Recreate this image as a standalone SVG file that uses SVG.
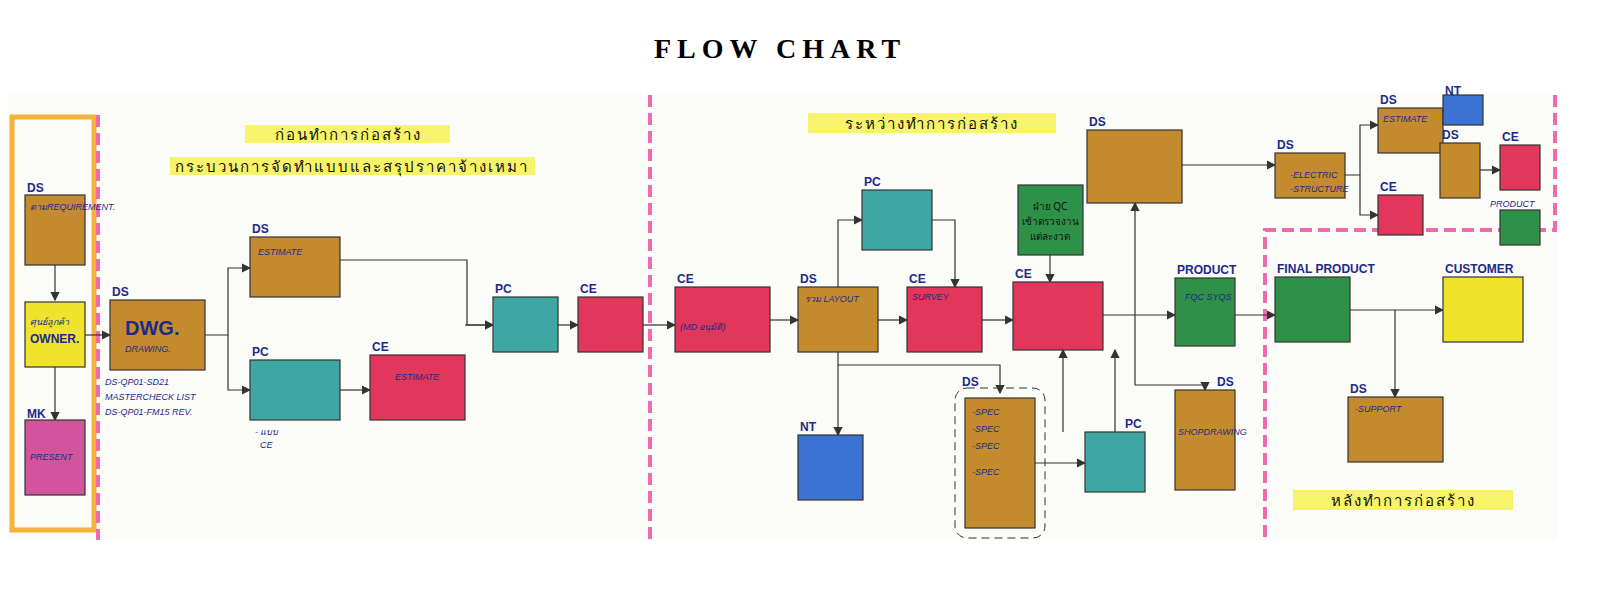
<svg xmlns="http://www.w3.org/2000/svg" width="1600" height="590" viewBox="0 0 1600 590">
<defs><marker id="a" markerWidth="8" markerHeight="8" refX="7" refY="4" orient="auto"><path d="M0,0 L8,4 L0,8 z" fill="#333"/></marker>
<style>
.b{stroke:#333;stroke-width:1.2}.br{fill:#c48a2e}.ye{fill:#f0e32c}.pk{fill:#d2549c}.tl{fill:#3ea7a4}.rd{fill:#e2365a}.gr{fill:#2f9148}.bl{fill:#3c72d2}
.c{fill:none;stroke:#333;stroke-width:1.2;marker-end:url(#a)}
.t{font-family:"Liberation Sans","Noto Sans",sans-serif;font-size:9px;fill:#1d2a8a;font-style:italic}
.h{font-family:"Liberation Sans",sans-serif;font-size:12px;font-weight:bold;fill:#1d2a8a}
.th{font-family:"Noto Sans","DejaVu Sans",sans-serif;font-size:15px;fill:#111;letter-spacing:2px}
.pd{fill:none;stroke:#f06ab0;stroke-width:4;stroke-dasharray:12,6}
</style></defs>
<rect width="1600" height="590" fill="#fff"/>
<rect x="8" y="95" width="1550" height="445" fill="#fbfbf8"/>
<text x="780" y="58" text-anchor="middle" font-family="Liberation Serif,serif" font-size="28" font-weight="bold" letter-spacing="6">FLOW CHART</text>
<rect x="12" y="117" width="82" height="413" fill="none" stroke="#f7b23c" stroke-width="5"/>
<path class="pd" d="M98 115V540M650 95V540M1555 95V230H1265V540"/>
<rect x="245" y="125" width="205" height="18" fill="#f7f36a"/><text class="th" x="348" y="140" text-anchor="middle">ก่อนทำการก่อสร้าง</text>
<rect x="170" y="157" width="365" height="18" fill="#f7f36a"/><text class="th" x="352" y="172" text-anchor="middle" font-size="13">กระบวนการจัดทำแบบและสรุปราคาจ้างเหมา</text>
<rect x="808" y="113" width="248" height="20" fill="#f7f36a"/><text class="th" x="932" y="129" text-anchor="middle">ระหว่างทำการก่อสร้าง</text>
<rect x="1293" y="490" width="220" height="20" fill="#f7f36a"/><text class="th" x="1403" y="506" text-anchor="middle">หลังทำการก่อสร้าง</text>
<g id="connectors">
<path class="c" d="M55 265V300"/><path class="c" d="M55 367V420"/><path class="c" d="M85 335H110"/>
<path class="c" d="M205 335H228V268H250"/><path class="c" d="M228 335V390H250"/><path class="c" d="M340 390H370"/>
<path class="c" d="M340 260H467V325H493"/><path class="c" d="M465 325H493"/><path class="c" d="M558 325H578"/><path class="c" d="M643 325H675"/>
<path class="c" d="M770 320H798"/><path class="c" d="M878 320H907"/><path class="c" d="M838 287V220H862"/><path class="c" d="M932 220H955V287"/>
<path class="c" d="M982 320H1013"/><path class="c" d="M1050 255V282"/><path class="c" d="M1103 315H1175"/><path class="c" d="M1135 315V203"/>
<path class="c" d="M1182 165H1275"/><path class="c" d="M1235 315H1275"/><path class="c" d="M1350 310H1443"/><path class="c" d="M1395 310V397"/>
<path class="c" d="M838 352V435"/><path class="c" d="M838 365H1000V393"/><path class="c" d="M1035 463H1085"/><path class="c" d="M1063 432V350"/><path class="c" d="M1115 432V350"/>
<path class="c" d="M1135 315V385H1205V390"/><path class="c" d="M1345 175H1360V125H1378"/><path class="c" d="M1360 175V215H1378"/><path class="c" d="M1480 170H1500"/>
</g>
<g id="n1"><rect class="b br" x="25" y="195" width="60" height="70"/><text class="h" x="27" y="192">DS</text><text class="t" x="30" y="210">ตามREQUIREMENT.</text></g>
<g id="n2"><rect class="b ye" x="25" y="302" width="60" height="65"/><text class="t" x="30" y="325">ศุนย์ลูกค้า</text><text class="h" x="30" y="343">OWNER.</text></g>
<g id="n3"><rect class="b pk" x="25" y="420" width="60" height="75"/><text class="h" x="27" y="418">MK</text><text class="t" x="30" y="460">PRESENT</text></g>
<g id="n4"><rect class="b br" x="110" y="300" width="95" height="70"/><text class="h" x="112" y="296">DS</text><text x="125" y="335" font-family="Liberation Sans" font-size="20" font-weight="bold" fill="#1d2a8a">DWG.</text><text class="t" x="125" y="352">DRAWING.</text></g>
<text class="t" x="105" y="385">DS-QP01-SD21</text><text class="t" x="105" y="400">MASTERCHECK LIST</text><text class="t" x="105" y="415">DS-QP01-FM15 REV.</text>
<g id="n5"><rect class="b br" x="250" y="237" width="90" height="60"/><text class="h" x="252" y="233">DS</text><text class="t" x="258" y="255">ESTIMATE</text></g>
<g id="n6"><rect class="b tl" x="250" y="360" width="90" height="60"/><text class="h" x="252" y="356">PC</text></g>
<text class="t" x="255" y="435">- แบบ</text><text class="t" x="260" y="448">CE</text>
<g id="n7"><rect class="b rd" x="370" y="355" width="95" height="65"/><text class="h" x="372" y="351">CE</text><text class="t" x="395" y="380">ESTIMATE</text></g>
<g id="n8"><rect class="b tl" x="493" y="297" width="65" height="55"/><text class="h" x="495" y="293">PC</text></g>
<g id="n9"><rect class="b rd" x="578" y="297" width="65" height="55"/><text class="h" x="580" y="293">CE</text></g>
<g id="n10"><rect class="b rd" x="675" y="287" width="95" height="65"/><text class="h" x="677" y="283">CE</text><text class="t" x="680" y="330">(MD อนุมัติ)</text></g>
<g id="n11"><rect class="b br" x="798" y="287" width="80" height="65"/><text class="h" x="800" y="283">DS</text><text class="t" x="805" y="302">รวม LAYOUT</text></g>
<g id="n12"><rect class="b tl" x="862" y="190" width="70" height="60"/><text class="h" x="864" y="186">PC</text></g>
<g id="n13"><rect class="b rd" x="907" y="287" width="75" height="65"/><text class="h" x="909" y="283">CE</text><text class="t" x="912" y="300">SURVEY</text></g>
<g id="n14"><rect class="b gr" x="1018" y="185" width="65" height="70"/><text x="1050" y="210" text-anchor="middle" font-family="Noto Sans,sans-serif" font-size="10" fill="#111">ฝ่าย QC</text><text x="1050" y="225" text-anchor="middle" font-family="Noto Sans,sans-serif" font-size="10" fill="#111">เข้าตรวจงาน</text><text x="1050" y="240" text-anchor="middle" font-family="Noto Sans,sans-serif" font-size="10" fill="#111">แต่ละงวด</text></g>
<g id="n15"><rect class="b rd" x="1013" y="282" width="90" height="68"/><text class="h" x="1015" y="278">CE</text></g>
<g id="n16"><rect class="b br" x="1087" y="130" width="95" height="73"/><text class="h" x="1089" y="126">DS</text></g>
<g id="n17"><rect class="b gr" x="1175" y="278" width="60" height="68"/><text class="h" x="1177" y="274" fill="#e2365a">PRODUCT</text><text class="t" x="1185" y="300">FQC SYQS</text></g>
<g id="n18"><rect class="b br" x="1175" y="390" width="60" height="100"/><text class="h" x="1217" y="386">DS</text><text class="t" x="1178" y="435">SHOPDRAWING</text></g>
<g id="n19"><rect class="b tl" x="1085" y="432" width="60" height="60"/><text class="h" x="1125" y="428">PC</text></g>
<g id="n20"><rect x="955" y="388" width="90" height="150" rx="12" fill="none" stroke="#333" stroke-dasharray="8,5"/><rect class="b br" x="965" y="398" width="70" height="130"/><text class="h" x="962" y="386">DS</text><text class="t" x="972" y="415">-SPEC</text><text class="t" x="972" y="432">-SPEC</text><text class="t" x="972" y="449">-SPEC</text><text class="t" x="972" y="475">-SPEC</text></g>
<g id="n21"><rect class="b bl" x="798" y="435" width="65" height="65"/><text class="h" x="800" y="431" fill="#e2365a">NT</text></g>
<g id="n22"><rect class="b br" x="1275" y="153" width="70" height="45"/><text class="h" x="1277" y="149">DS</text><text class="t" x="1290" y="178">-ELECTRIC</text><text class="t" x="1290" y="192">-STRUCTURE</text></g>
<g id="n23"><rect class="b br" x="1378" y="108" width="65" height="45"/><text class="h" x="1380" y="104">DS</text><text class="t" x="1383" y="122">ESTIMATE</text></g>
<g id="n24"><rect class="b bl" x="1443" y="95" width="40" height="30"/><text class="h" x="1445" y="95">NT</text></g>
<g id="n25"><rect class="b rd" x="1378" y="195" width="45" height="40"/><text class="h" x="1380" y="191">CE</text></g>
<g id="n26"><rect class="b br" x="1440" y="143" width="40" height="55"/><text class="h" x="1442" y="139">DS</text></g>
<g id="n27"><rect class="b rd" x="1500" y="145" width="40" height="45"/><text class="h" x="1502" y="141">CE</text></g>
<g id="n28"><rect class="b gr" x="1500" y="210" width="40" height="35"/><text class="t" x="1490" y="207">PRODUCT</text></g>
<g id="n29"><rect class="b gr" x="1275" y="277" width="75" height="65"/><text class="h" x="1277" y="273">FINAL PRODUCT</text></g>
<g id="n30"><rect class="b ye" x="1443" y="277" width="80" height="65"/><text class="h" x="1445" y="273">CUSTOMER</text></g>
<g id="n31"><rect class="b br" x="1348" y="397" width="95" height="65"/><text class="h" x="1350" y="393">DS</text><text class="t" x="1355" y="412">-SUPPORT</text></g>
</svg>
